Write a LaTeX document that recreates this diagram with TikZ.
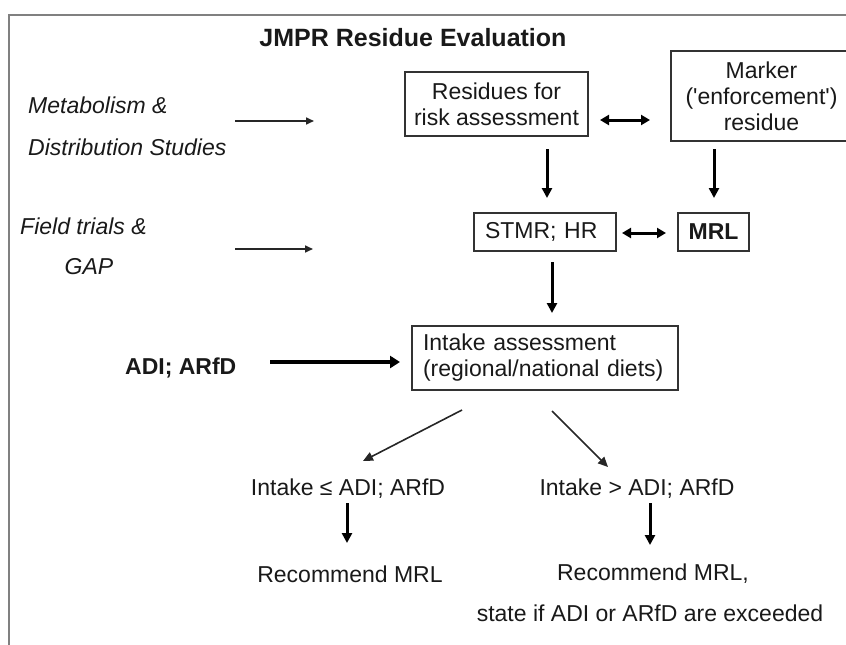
\documentclass[tikz,border=0pt]{standalone}
\usepackage{fontspec}
\setmainfont{Liberation Sans}
\usetikzlibrary{arrows.meta}
\begin{document}
\begin{tikzpicture}[x=1pt,y=-1pt,
  txt/.style={font=\fontsize{23}{26}\selectfont, text=black!90, inner sep=0pt},
  itxt/.style={txt, font=\fontsize{23}{26}\selectfont\itshape},
  btxt/.style={txt, font=\fontsize{23}{26}\selectfont\bfseries},
  box/.style={draw=black!80, line width=1.1pt, font=\fontsize{23}{26}\selectfont, text=black!90,
              inner sep=0pt, align=center},
  thinarrow/.style={draw=black!85, line width=1.6pt, -{Triangle[length=8pt,width=7pt]}},
  bigarrow/.style={draw=black, line width=3pt, -{Triangle[length=10pt,width=10pt]}},
  dblarrow/.style={draw=black, line width=3pt, {Triangle[length=9pt,width=10pt]}-{Triangle[length=9pt,width=10pt]}},
  hugearrow/.style={draw=black, line width=4pt, -{Triangle[length=10pt,width=12pt]}},
  framestyle/.style={draw=black!50, line width=1.5pt}]
\useasboundingbox (0,0) rectangle (846,645);
\clip (0,0) rectangle (846,645);

% frame
\draw[framestyle] (846,15) -- (9,15) -- (9,645);

% title
\node[txt, font=\fontsize{25}{30}\selectfont\bfseries] (title) at (413,38) {JMPR Residue Evaluation};

% left texts
\node[itxt, anchor=west] (meta1) at (28,105) {Metabolism \&};
\node[itxt, anchor=west] (meta2) at (28,147) {Distribution Studies};
\node[itxt, anchor=west] (field1) at (20,226) {Field trials \&};
\node[itxt] (field2) at (89,267) {GAP};
\node[btxt, anchor=west] (adi) at (125,368) {ADI; ARfD};

% boxes
\node[box, minimum width=183pt, minimum height=64pt] (res) at (496.5,104) {Residues for\\risk assessment};
\node[box, minimum width=181pt, minimum height=90pt] (marker) at (761.5,96) {Marker\\(\textquotesingle enforcement\textquotesingle)\\residue};
\node[box, minimum height=38pt, text width=120pt, inner xsep=11pt, align=left] (stmr) at (545,232) {STMR; HR};
\node[box, minimum width=71pt, minimum height=38pt, font=\fontsize{23}{26}\selectfont\bfseries] (mrl) at (713.5,232) {MRL};
\node[box, minimum height=64pt, text width=244pt, inner xsep=11pt, align=left] (intake) at (545,358) {Intake assessment\\(regional/national diets)};

% outcome texts
\node[txt] (low) at (348,489) {Intake ≤ ADI; ARfD};
\node[txt] (high) at (637,489) {Intake > ADI; ARfD};
\node[txt] (rec1) at (350,574) {Recommend MRL};
\node[txt] (rec2) at (653,574) {Recommend MRL,};
\node[txt] (state) at (650,613) {state if ADI or ARfD are exceeded};

% arrow end points
\coordinate (a1s) at (235,121); \coordinate (a1e) at (314,121);
\coordinate (a2s) at (235,249); \coordinate (a2e) at (313,249);
\coordinate (d1s) at (600,120); \coordinate (d1e) at (650,120);
\coordinate (d2s) at (622,233); \coordinate (d2e) at (666,233);
\coordinate (v1s) at (547,149); \coordinate (v1e) at (547,198);
\coordinate (v2s) at (714,149); \coordinate (v2e) at (714,198);
\coordinate (v3s) at (552,262); \coordinate (v3e) at (552,313);
\coordinate (hs) at (270,362); \coordinate (he) at (400,362);
\coordinate (gls) at (462,410); \coordinate (gle) at (363,461);
\coordinate (grs) at (552,411); \coordinate (gre) at (608,467);
\coordinate (vls) at (347,503); \coordinate (vle) at (347,543);
\coordinate (vrs) at (650,503); \coordinate (vre) at (650,545);

% arrows
\draw[thinarrow] (a1s) -- (a1e);
\draw[thinarrow] (a2s) -- (a2e);
\draw[dblarrow] (d1s) -- (d1e);
\draw[dblarrow] (d2s) -- (d2e);
\draw[bigarrow] (v1s) -- (v1e);
\draw[bigarrow] (v2s) -- (v2e);
\draw[bigarrow] (v3s) -- (v3e);
\draw[hugearrow] (hs) -- (he);
\draw[thinarrow, -{Triangle[length=10pt,width=9pt]}] (gls) -- (gle);
\draw[thinarrow, -{Triangle[length=10pt,width=9pt]}] (grs) -- (gre);
\draw[bigarrow] (vls) -- (vle);
\draw[bigarrow] (vrs) -- (vre);
\end{tikzpicture}
\end{document}
